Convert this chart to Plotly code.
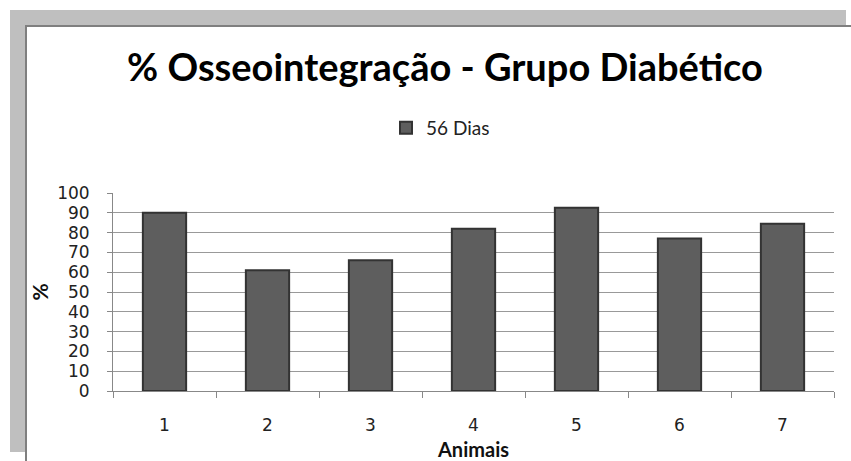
import plotly.graph_objects as go

categories = ["1", "2", "3", "4", "5", "6", "7"]
values_56_dias = [90, 61, 66, 82, 92.5, 77, 84.5]
series_name = "56 Dias"
y_ticks = list(range(0, 101, 10))

W, H = 851, 461
L, R, T, B = 113, 834, 193, 391

def px(x):
    return (x - L) / (R - L)

def py(y):
    return (B - y) / (B - T)

font = "Lato"
tickfont = "DejaVu Sans"

fig = go.Figure()
fig.add_trace(go.Bar(
    x=categories, y=values_56_dias, name=series_name,
    marker=dict(color="#5e5e5e", line=dict(color="#333333", width=2)),
    width=0.42, showlegend=True,
))

shapes = [
    dict(type="rect", xref="paper", yref="paper", x0=px(10), x1=px(846), y0=py(452), y1=py(10),
         fillcolor="#bfbfbf", line=dict(width=0), layer="below"),
    dict(type="rect", xref="paper", yref="paper", x0=px(26), x1=px(880), y0=py(490), y1=py(26),
         fillcolor="white", line=dict(color="#7f7f7f", width=2), layer="below"),
]

fig.update_layout(
    width=W, height=H,
    margin=dict(l=L, r=W - R, t=T, b=H - B, autoexpand=False),
    paper_bgcolor="white", plot_bgcolor="rgba(0,0,0,0)",
    shapes=shapes,
    title=dict(text="<b>% Osseointegração - Grupo Diabético</b>", xref="paper", x=px(445), xanchor="center",
               yref="container", y=1 - 68 / H, yanchor="middle",
               font=dict(family=font, size=38, color="black")),
    legend=dict(orientation="h", xref="paper", x=px(386), xanchor="left", yref="paper", y=py(128), yanchor="middle",
                font=dict(family=font, size=19, color="#222"), bgcolor="rgba(0,0,0,0)",
                itemwidth=30),
    font=dict(family=font, color="#222"),
)
fig.update_xaxes(
    type="category", showgrid=False, showline=True, linecolor="#888", linewidth=1,
    ticks="outside", tickson="boundaries", ticklen=6, tickcolor="#888", automargin=False,
    tickfont=dict(family=tickfont, size=17, color="#222"), ticklabelstandoff=19,
    title=dict(text="<b>Animais</b>", font=dict(family=font, size=20, color="#111"), standoff=8),
)
fig.update_yaxes(
    range=[0, 100], tickvals=y_ticks, showgrid=True, gridcolor="#999", gridwidth=1,
    showline=True, linecolor="#888", linewidth=1, ticks="outside", ticklen=5, tickcolor="#888", automargin=False,
    tickfont=dict(family=tickfont, size=17, color="#222"), ticklabelstandoff=14,
    title=dict(text="<b>%</b>", font=dict(family=font, size=21, color="#111"), standoff=2),
    zeroline=False,
)
fig.write_html("out.html", config={"displayModeBar": False},
               post_script="document.body.style.margin='0';")
